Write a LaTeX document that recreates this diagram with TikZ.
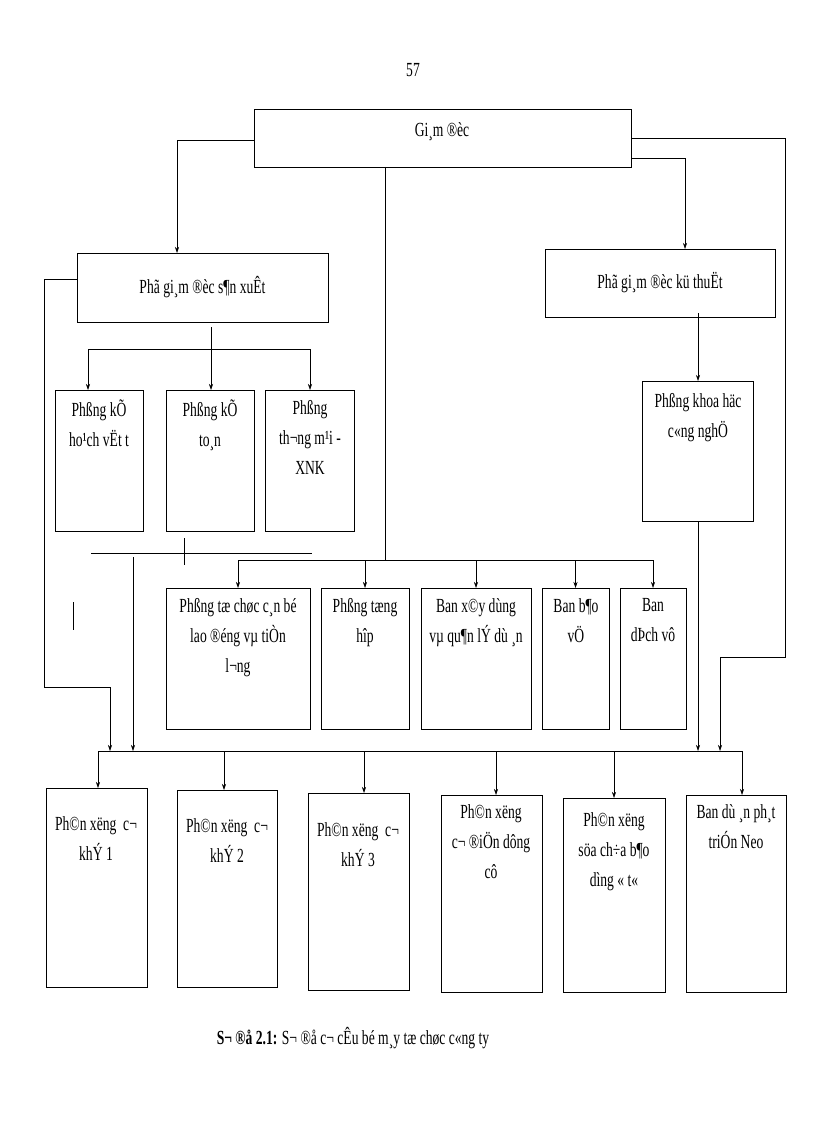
\documentclass[tikz,border=0pt]{standalone}
\usepackage{fontspec}
\setmainfont{Liberation Serif}[FakeStretch=0.68]
\usetikzlibrary{arrows.meta,calc}
\newcommand\mkbox[5]{\node[box,minimum width={(#4-#2)*1pt},minimum height={(#5-#3)*1pt}] (#1) at ({(#2+#4)/2},{(#3+#5)/2}) {};}
\begin{document}
\begin{tikzpicture}[x=1pt,y=-1pt,
  box/.style={draw,line width=0.8pt,inner sep=0pt,outer sep=0pt},
  txt/.style={align=center,font=\fontsize{20}{30}\selectfont,inner sep=0pt,anchor=north},
  ln/.style={line width=0.6pt},
  arr/.style={ln,-{Stealth[length=6pt,width=4pt]}}]
\useasboundingbox (0,0) rectangle (816,1123);
\node[font=\fontsize{20}{22}\selectfont] (pg) at (413,70) {57};
% boxes
\mkbox{gd}{254}{109}{631}{167}
\mkbox{psx}{77}{253}{328}{322}
\mkbox{pkt}{545}{249}{775}{317}
\mkbox{a1}{55}{390}{143}{531}
\mkbox{a2}{166}{390}{254}{531}
\mkbox{a3}{265}{390}{354}{531}
\mkbox{kh}{642}{381}{753}{521}
\mkbox{m1}{166}{588}{310}{729}
\mkbox{m2}{321}{588}{409}{729}
\mkbox{m3}{421}{588}{531}{729}
\mkbox{m4}{542}{588}{609}{729}
\mkbox{m5}{620}{588}{686}{729}
\mkbox{b1}{46}{788}{147}{987}
\mkbox{b2}{177}{790}{277}{987}
\mkbox{b3}{308}{793}{409}{990}
\mkbox{b4}{441}{795}{542}{992}
\mkbox{b5}{563}{798}{665}{992}
\mkbox{b6}{686}{795}{786}{992}
% texts
\node[txt,anchor=center] (tgd) at (442,132) {Gi¸m ®èc};
\node[txt,anchor=center] (tpsx) at (psx) {Phã gi¸m ®èc s¶n xuÊt};
\node[txt,anchor=center] (tpkt) at (pkt) {Phã gi¸m ®èc kü thuËt};
\node[txt] (ta1) at (99,400) {Phßng kÕ\\ho¹ch vËt t};
\node[txt] (ta2) at (210,400) {Phßng kÕ\\to¸n};
\node[txt] (ta3) at (310,400) {Phßng\\th¬ng m¹i -\\XNK};
\node[txt] (tkh) at (698,393) {Phßng khoa häc\\c«ng nghÖ};
\node[txt] (tm1) at (238,598) {Phßng tæ chøc c¸n bé\\lao ®éng vµ tiÒn\\l¬ng};
\node[txt] (tm2) at (365,598) {Phßng tæng\\hîp};
\node[txt] (tm3) at (476,598) {Ban x©y dùng\\vµ qu¶n lÝ dù ¸n};
\node[txt] (tm4) at (576,598) {Ban b¶o\\vÖ};
\node[txt] (tm5) at (653,598) {Ban\\dÞch vô};
\node[txt] (tb1) at (96,816) {Ph©n xëng\ \ c¬\\khÝ 1};
\node[txt] (tb2) at (227,818) {Ph©n xëng\ \ c¬\\khÝ 2};
\node[txt] (tb3) at (358,822) {Ph©n xëng\ \ c¬\\khÝ 3};
\node[txt] (tb4) at (491,804) {Ph©n xëng\\c¬ ®iÖn dông\\cô};
\node[txt] (tb5) at (614,812) {Ph©n xëng\\söa ch÷a b¶o\\dìng « t«};
\node[txt] (tb6) at (736,804) {Ban dù ¸n ph¸t\\triÓn Neo};
\node[font=\fontsize{20}{22}\selectfont,inner sep=0pt] (cap) at (353,1038) {\textbf{S¬ ®å 2.1:} S¬ ®å c¬ cÊu bé m¸y tæ chøc c«ng ty};
% coordinates
\coordinate (bus) at (98,751);
\coordinate (busR) at (742,751);
\coordinate (mid) at (385,560);
% connectors from director
\draw[arr] (gd.west |- 0,140) -| (177,253);
\draw[arr] (gd.east |- 0,158) -| (685,249);
\draw[arr] (gd.east |- 0,138) -- (785,138) -- (785,657) -- (720,657) -- (720,751);
\draw[ln] (gd.south -| mid) -- (mid);
% middle row
\draw[ln] (m1.north |- mid) -- (m5.north |- mid);
\foreach \b in {m1,m2,m3,m4,m5} \draw[arr] (\b.north |- mid) -- (\b.north);
% under psx
\draw[ln] (211,327) -- (211,349);
\draw[ln] (88,349) -- (310,349);
\draw[arr] (88,349) -- (88,390);
\draw[arr] (211,349) -- (211,390);
\draw[arr] (310,349) -- (310,390);
% psx left branch
\draw[arr] (psx.west |- 0,279) -- (44,279) -- (44,687) -- (110,687) -- (110,751);
% pkt to kh to bus
\draw[arr] (698,313) -- (kh.north -| 698,0);
\draw[arr] (kh.south -| 698,0) -- (698,751);
% decorations
\draw[line width=1pt] (91,553) -- (312,553);
\draw[ln] (184,538) -- (184,565);
\draw[arr] (133,557) -- (133,751);
\draw[ln] (73,602) -- (73,630);
% bottom bus
\draw[line width=1pt] (bus) -- (busR);
\draw[arr] (bus) -- (b1.north -| bus);
\foreach \b/\x in {b2/224,b3/364,b4/496,b5/614,b6/742} \draw[arr] (\x,751) -- (\b.north -| \x,0);
\end{tikzpicture}
\end{document}
